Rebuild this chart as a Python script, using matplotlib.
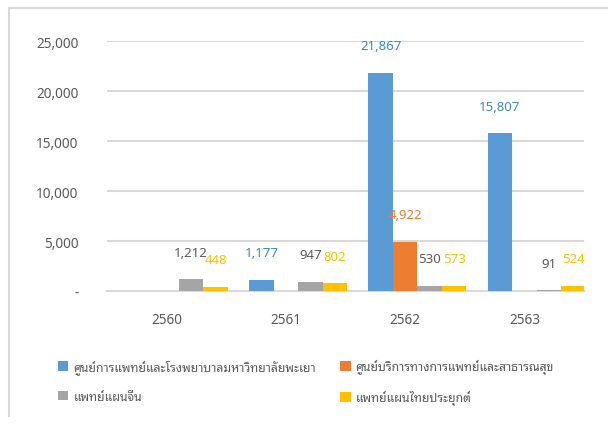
import matplotlib
matplotlib.use("Agg")
import matplotlib.pyplot as plt
from matplotlib.lines import Line2D
import numpy as np

plt.rcParams["font.family"] = ["Noto Sans Thai Looped", "DejaVu Sans"]

# ---------------------------------------------------------------------------
# Data
# ---------------------------------------------------------------------------
years = ["2560", "2561", "2562", "2563"]
series_names = [
    "ศูนย์การแพทย์และโรงพยาบาลมหาวิทยาลัยพะเยา",
    "ศูนย์บริการทางการแพทย์และสาธารณสุข",
    "แพทย์แผนจีน",
    "แพทย์แผนไทยประยุกต์",
]
medical_center = [None, 1177, 21867, 15807]
service_center = [None, None, 4922, None]
chinese_med = [1212, 947, 530, 91]
thai_applied = [448, 802, 573, 524]
y_ticks = [0, 5000, 10000, 15000, 20000, 25000]

colors = ["#5B9BD5", "#ED7D31", "#A5A5A5", "#FFC000"]
label_colors = ["#3A87C8", "#ED7D31", "#595959", "#FFC000"]
text_grey = "#595959"
grid_grey = "#D9D9D9"

all_series = [medical_center, service_center, chinese_med, thai_applied]

fig = plt.figure(figsize=(6.08, 4.27), dpi=100)
ax = fig.add_axes([107 / 608, (427 - 292.3) / 427, 477 / 608, 250 / 427])

x = np.arange(len(years))
width = 0.2055
handles = []
for i, (vals, col, lcol) in enumerate(zip(all_series, colors, label_colors)):
    v = np.array([np.nan if a is None else a for a in vals], dtype=float)
    pos = x + (i - 1.5) * width
    bars = ax.bar(pos, v, width=width, align="edge", color=col, zorder=3)
    handles.append(bars)
    for p, val in zip(pos, v):
        if np.isnan(val):
            continue
        ax.annotate(f"{int(val):,}", (p + width / 2, val), xytext=(0, 19.5),
                    textcoords="offset points", ha="center", va="center",
                    fontsize=9.5, color=lcol)

ax.set_xlim(-0.5, len(years) - 0.5)
ax.set_ylim(0, 25000)
ax.set_xticks(x)
ax.set_xticklabels(years)
ax.set_yticks(y_ticks)
ax.set_yticklabels(["-" if t == 0 else f"{t:,}" for t in y_ticks])
ax.tick_params(axis="both", length=0, colors=text_grey, labelsize=9.8)
ax.tick_params(axis="y", pad=20.5)
ax.tick_params(axis="x", pad=15)
for lbl in ax.get_yticklabels():
    lbl.set_horizontalalignment("right")
ax.grid(axis="y", color=grid_grey, linewidth=1.5, zorder=0)
for s in ax.spines.values():
    s.set_visible(False)
ax.axhline(0, color=grid_grey, linewidth=1.5, zorder=2, clip_on=False)

# legend laid out in rows like the original
order = [0, 2, 1, 3]
fig.legend([handles[k] for k in order], [series_names[k] for k in order],
           ncol=2, loc="upper left", bbox_to_anchor=(47 / 608, 1 - 349 / 427),
           frameon=False, fontsize=8.8, labelcolor=text_grey,
           handlelength=0.85, handleheight=0.85, handletextpad=0.4,
           columnspacing=2.0, labelspacing=1.3)

# chart border (left and top edges visible)
fig.add_artist(Line2D([8.5 / 608, 8.5 / 608], [1 - 417 / 427, 1 - 9 / 427],
                      color=grid_grey, linewidth=1.5, transform=fig.transFigure))
fig.add_artist(Line2D([8.5 / 608, 1.0], [1 - 9 / 427, 1 - 9 / 427],
                      color=grid_grey, linewidth=1.5, transform=fig.transFigure))

fig.savefig("out.png", dpi=100)
